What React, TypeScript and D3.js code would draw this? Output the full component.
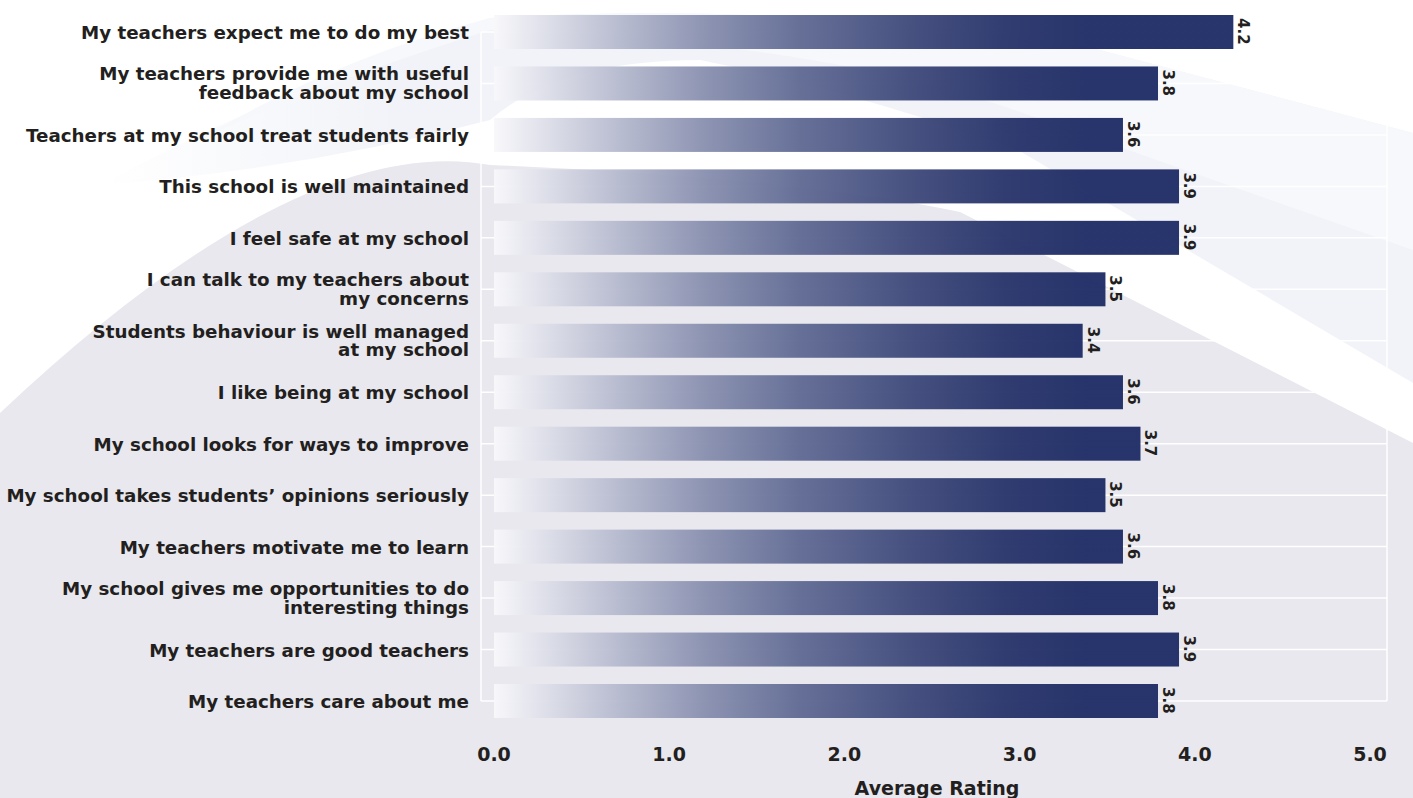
import React from "react";
import * as d3 from "d3";

const categories: string[] = [
  "My teachers expect me to do my best",
  "My teachers provide me with useful\nfeedback about my school",
  "Teachers at my school treat students fairly",
  "This school is well maintained",
  "I feel safe at my school",
  "I can talk to my teachers about\nmy concerns",
  "Students behaviour is well managed\nat my school",
  "I like being at my school",
  "My school looks for ways to improve",
  "My school takes students\u2019 opinions seriously",
  "My teachers motivate me to learn",
  "My school gives me opportunities to do\ninteresting things",
  "My teachers are good teachers",
  "My teachers care about me",
];

const values: number[] = [4.22, 3.79, 3.59, 3.91, 3.91, 3.49, 3.36, 3.59, 3.69, 3.49, 3.59, 3.79, 3.91, 3.79];

const xTicks: number[] = [0, 1, 2, 3, 4, 5];
const xTitle = "Average Rating";

const W = 1413;
const H = 798;
const FONT = "'DejaVu Sans', sans-serif";
const TEXT = "#231f20";
const NAVY = "#1f2d66";

export default function App() {
  const x = d3.scaleLinear().domain([0, 5]).range([494, 1370]);
  const y = d3.scalePoint<string>().domain(categories).range([32, 701]);
  const barH = 34;
  const fmt = d3.format(".1f");
  const plotLeft = 481;
  const plotRight = 1387;
  const yTop = y(categories[0])!;
  const yBot = y(categories[categories.length - 1])!;

  return (
    <svg
      width={W}
      height={H}
      viewBox={`0 0 ${W} ${H}`}
      style={{ position: "absolute", left: 0, top: 0, display: "block" }}
    >
      <defs>
        <linearGradient id="barGrad" gradientUnits="userSpaceOnUse" x1={x(0)} x2={1085} y1={0} y2={0}>
          <stop offset="0" stopColor="#f8f8fb" />
          <stop offset="0.18" stopColor="#c0c3d5" />
          <stop offset="0.35" stopColor="#8b92b1" />
          <stop offset="0.52" stopColor="#606a93" />
          <stop offset="0.7" stopColor="#404b7c" />
          <stop offset="0.86" stopColor="#29356b" />
          <stop offset="1" stopColor={NAVY} />
        </linearGradient>
        <linearGradient id="swooshGrad" gradientUnits="userSpaceOnUse" x1={100} x2={700} y1={0} y2={0}>
          <stop offset="0" stopColor="#f1f3f8" stopOpacity={0} />
          <stop offset="0.5" stopColor="#f1f3f8" stopOpacity={1} />
          <stop offset="1" stopColor="#f1f3f8" stopOpacity={1} />
        </linearGradient>
      </defs>

      {/* background decoration */}
      <rect x={0} y={0} width={W} height={H} fill="#ffffff" />
      <path
        d="M 100,185 Q 300,80 490,18 Q 800,0 1100,50 L 1413,133 L 1413,383 L 1018,150 Q 850,90 700,60 Q 560,60 490,120 Q 300,170 100,185 Z"
        fill="url(#swooshGrad)"
      />
      <path d="M 490,18 Q 800,0 1100,50 L 1413,133 L 1413,250 L 1000,105 Q 800,40 490,30 Q 300,90 200,140 Q 330,60 490,18 Z" fill="#f7f8fb" />
      <path
        d="M 0,413 Q 300,130 490,165 Q 800,178 960,212 L 1413,443 L 1413,798 L 0,798 Z"
        fill="#e8e8ee"
      />

      {/* grid */}
      <g stroke="#ffffff" strokeWidth={1.5}>
        {categories.map((c) => (
          <line key={c} x1={plotLeft} x2={plotRight} y1={y(c)} y2={y(c)} />
        ))}
        <line x1={plotLeft} x2={plotLeft} y1={yTop} y2={yBot} />
        <line x1={plotRight} x2={plotRight} y1={yTop} y2={yBot} />
      </g>

      {/* bars */}
      <g>
        {categories.map((c, i) => (
          <rect
            key={c}
            x={x(0)}
            y={y(c)! - barH / 2}
            width={x(values[i]) - x(0)}
            height={barH}
            fill="url(#barGrad)"
            opacity={0.96}
          />
        ))}
      </g>

      {/* value labels */}
      <g fontFamily={FONT} fontWeight={700} fontSize={15} fill={TEXT}>
        {categories.map((c, i) => {
          const px = x(values[i]) + 5;
          const py = y(c)! - barH / 2 + 3;
          return (
            <text key={c} transform={`translate(${px},${py}) rotate(90)`} textAnchor="start">
              {fmt(values[i])}
            </text>
          );
        })}
      </g>

      {/* category labels */}
      <g fontFamily={FONT} fontWeight={700} fontSize={18.3} fill={TEXT} textAnchor="end">
        {categories.map((c) => {
          const lines = c.split("\n");
          const cy = y(c)!;
          if (lines.length === 1) {
            return (
              <text key={c} x={469} y={cy + 7}>
                {c}
              </text>
            );
          }
          return (
            <text key={c} x={469} y={cy - 3}>
              {lines.map((l, j) => (
                <tspan key={j} x={469} dy={j === 0 ? 0 : 18.5}>
                  {l}
                </tspan>
              ))}
            </text>
          );
        })}
      </g>

      {/* x ticks */}
      <g fontFamily={FONT} fontWeight={700} fontSize={19} fill={TEXT} textAnchor="middle">
        {xTicks.map((t) => (
          <text key={t} x={x(t)} y={761}>
            {fmt(t)}
          </text>
        ))}
        <text x={(x(0) + x(5)) / 2 + 5} y={795}>
          {xTitle}
        </text>
      </g>
    </svg>
  );
}
